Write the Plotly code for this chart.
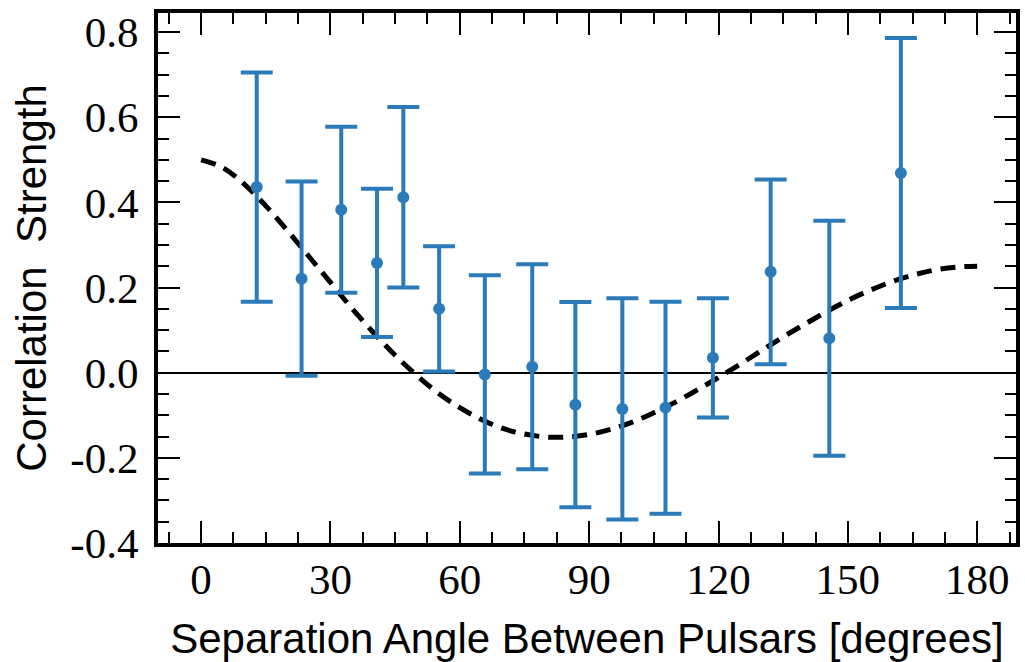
import plotly.graph_objects as go

angle_deg = [12.9, 23.3, 32.5, 40.8, 46.9, 55.2, 65.8, 76.8, 86.8, 97.7, 107.7, 118.7, 132.1, 145.7, 162.3]
correlation = [0.436, 0.221, 0.383, 0.258, 0.412, 0.150, -0.004, 0.014, -0.075, -0.085, -0.082, 0.035, 0.237, 0.081, 0.469]
corr_error = [0.269, 0.228, 0.195, 0.174, 0.212, 0.147, 0.233, 0.241, 0.241, 0.260, 0.249, 0.140, 0.217, 0.276, 0.317]

curve_angle = [0, 5, 10, 15, 20, 25, 30, 35, 40, 45, 50, 55, 60, 65, 70, 75, 80, 85, 90,
               95, 100, 105, 110, 115, 120, 125, 130, 135, 140, 145, 150, 155, 160, 165, 170, 175, 180]
curve_value = [0.500, 0.482, 0.443, 0.392, 0.334, 0.273, 0.212, 0.151, 0.094, 0.041, -0.006,
               -0.048, -0.082, -0.110, -0.131, -0.144, -0.151, -0.151, -0.145, -0.133, -0.116,
               -0.094, -0.069, -0.041, -0.011, 0.020, 0.052, 0.084, 0.114, 0.143, 0.170, 0.193,
               0.213, 0.229, 0.241, 0.248, 0.250]

x_tickvals = [0, 30, 60, 90, 120, 150, 180]
x_ticktext = ["0", "30", "60", "90", "120", "150", "180"]
y_tickvals = [-0.4, -0.2, 0.0, 0.2, 0.4, 0.6, 0.8]
y_ticktext = ["-0.4", "-0.2", "0.0", "0.2", "0.4", "0.6", "0.8"]

blue = "#2b7bba"

fig = go.Figure()

fig.add_trace(go.Scatter(
    x=curve_angle, y=curve_value, mode="lines",
    line=dict(color="black", width=5, dash="15px,9px", shape="spline"),
    hoverinfo="skip", showlegend=False,
))

fig.add_trace(go.Scatter(
    x=angle_deg, y=correlation, mode="markers",
    marker=dict(color=blue, size=12),
    error_y=dict(type="data", array=corr_error, visible=True,
                 color=blue, thickness=4, width=16),
    showlegend=False,
))

tick_font = dict(family="Liberation Serif, Times New Roman, serif", size=43, color="black")
title_font = dict(family="Liberation Sans, Arial, sans-serif", size=42, color="black")

fig.update_layout(
    width=1025, height=662,
    margin=dict(l=158, r=5, t=13, b=111),
    paper_bgcolor="white", plot_bgcolor="white",
    showlegend=False,
)

fig.update_xaxes(
    range=[-10, 189],
    tickvals=x_tickvals, ticktext=x_ticktext,
    ticks="inside", ticklen=22, tickwidth=2, tickcolor="black",
    minor=dict(dtick=7.5, tick0=0, ticks="inside", ticklen=11, tickwidth=2, tickcolor="black", showgrid=False),
    showline=True, linewidth=4, linecolor="black", mirror="ticks",
    showgrid=False, zeroline=False,
    tickfont=tick_font, ticklabelstandoff=-5,
    title=dict(text="Separation Angle Between Pulsars [degrees]", font=title_font, standoff=25),
)

fig.update_yaxes(
    range=[-0.4, 0.845],
    tickvals=y_tickvals, ticktext=y_ticktext,
    ticks="inside", ticklen=22, tickwidth=2, tickcolor="black",
    minor=dict(dtick=0.05, tick0=0, ticks="inside", ticklen=11, tickwidth=2, tickcolor="black", showgrid=False),
    showline=True, linewidth=4, linecolor="black", mirror="ticks",
    showgrid=False, zeroline=True, zerolinecolor="black", zerolinewidth=2,
    tickfont=tick_font, ticklabelstandoff=7,
    title=dict(text="Correlation  Strength", font=title_font, standoff=12),
)

fig.write_html("out.html")
